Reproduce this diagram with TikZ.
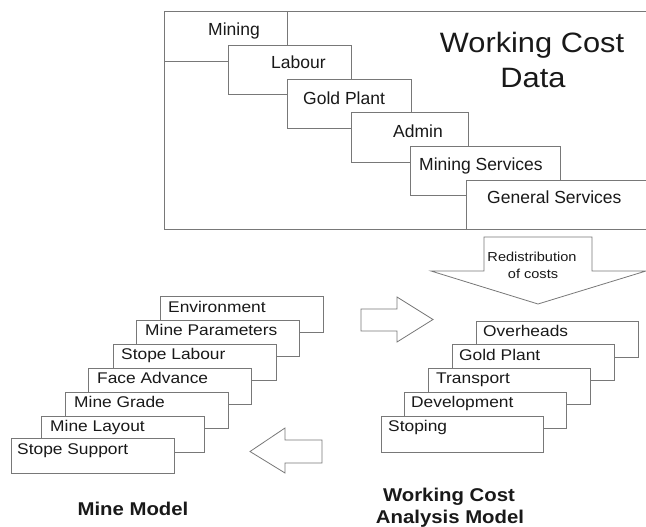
\documentclass[tikz,border=0pt]{standalone}
\usepackage{fontspec}
\usepackage{graphicx}
\setmainfont{Liberation Sans}
\definecolor{linec}{RGB}{120,120,120}
\definecolor{txtc}{RGB}{25,25,25}
\newcommand{\hsc}[2]{\scalebox{#1}[1]{#2}}
\tikzset{
  box/.style={draw=linec, line width=0.8pt, fill=white, rectangle, inner sep=0pt, anchor=north west},
  topbox/.style={box},
  lbox/.style={box, minimum width=163pt, minimum height=36pt},
  rbox/.style={box, minimum width=162pt, minimum height=36pt},
  toplbl/.style={anchor=base west, inner sep=0pt, text=txtc, font=\fontsize{17.5pt}{21pt}\selectfont},
  stklbl/.style={anchor=base west, inner sep=0pt, text=txtc, font=\fontsize{15.5pt}{19pt}\selectfont},
  bigtitle/.style={anchor=base, inner sep=0pt, text=txtc, font=\fontsize{28pt}{34pt}\selectfont},
  smalltxt/.style={anchor=base, inner sep=0pt, text=txtc, font=\fontsize{13pt}{16pt}\selectfont},
  boldlbl/.style={anchor=base, inner sep=0pt, text=txtc, font=\bfseries\fontsize{18.5pt}{22pt}\selectfont},
  blockarrow/.style={draw=linec, line width=0.8pt, fill=white, line join=miter}
}
\begin{document}
\begin{tikzpicture}[x=1pt, y=-1pt]
\useasboundingbox (0,0) rectangle (646,527);
\clip (0,0) rectangle (646,527);

% ---- Working cost data panel ----
\node[box, minimum width=490pt, minimum height=218pt] (panel) at (164,11) {};
\node[box, minimum width=123pt, minimum height=50pt] (mining) at (164,11) {};
\node[box, minimum width=123pt, minimum height=49pt] (labour) at (228,45) {};
\node[box, minimum width=124pt, minimum height=49pt] (goldplant) at (287,79) {};
\node[box, minimum width=117pt, minimum height=50pt] (admin) at (351,112) {};
\node[box, minimum width=150pt, minimum height=49pt] (miningserv) at (410,146) {};
\node[box, minimum width=190pt, minimum height=49pt] (genserv) at (466,180) {};

\node[toplbl] (tmining) at (208,36) {Mining};
\node[toplbl] (tlabour) at (271,69) {Labour};
\node[toplbl] (tgold) at (303,105) {Gold Plant};
\node[toplbl] (tadmin) at (393,137) {Admin};
\node[toplbl] (tms) at (419,170) {Mining Services};
\node[toplbl] (tgs) at (487,203) {General Services};

\node[bigtitle] (wc1) at (532,53) {\hsc{1.1}{Working Cost}};
\node[bigtitle] (wc2) at (533,88) {\hsc{1.1}{Data}};

% ---- Redistribution arrow ----
\draw[blockarrow] (484,237) -- (592,237) -- (592,271) -- (646,271) -- (538,304) -- (431,271) -- (484,271) -- cycle;
\node[smalltxt] (redis1) at (532,261) {\hsc{1.12}{Redistribution}};
\node[smalltxt] (redis2) at (533,278) {\hsc{1.12}{of costs}};

% ---- Right arrow ----
\draw[blockarrow] (361,309) -- (397,309) -- (397,297) -- (433,319.5) -- (397,342) -- (397,331) -- (361,331) -- cycle;

% ---- Left arrow ----
\draw[blockarrow] (322,440) -- (285,440) -- (285,428) -- (250,451.5) -- (285,473) -- (285,463) -- (322,463) -- cycle;

% ---- Mine model stack ----
\node[lbox] (env) at (160,296) {};
\node[lbox] (minepar) at (136,320) {};
\node[lbox] (stopelab) at (113,344) {};
\node[lbox] (faceadv) at (88,368) {};
\node[lbox] (minegrade) at (65,392) {};
\node[lbox] (minelayout) at (41,416) {};
\node[lbox, minimum height=35pt] (stopesup) at (11,438) {};

\node[stklbl] (tenv) at (168,312) {\hsc{1.12}{Environment}};
\node[stklbl] (tminepar) at (145,335.5) {\hsc{1.12}{Mine Parameters}};
\node[stklbl] (tstopelab) at (121,359) {\hsc{1.12}{Stope Labour}};
\node[stklbl] (tfaceadv) at (97,383) {\hsc{1.12}{Face Advance}};
\node[stklbl] (tminegrade) at (74,407.5) {\hsc{1.12}{Mine Grade}};
\node[stklbl] (tminelayout) at (50,431) {\hsc{1.12}{Mine Layout}};
\node[stklbl] (tstopesup) at (17,454) {\hsc{1.12}{Stope Support}};

% ---- Working cost analysis stack ----
\node[rbox] (overheads) at (476,321) {};
\node[rbox] (rgold) at (452,344) {};
\node[rbox] (transport) at (428,368) {};
\node[rbox] (development) at (404,392) {};
\node[rbox] (stoping) at (381,416) {};

\node[stklbl] (toverheads) at (483,336) {\hsc{1.12}{Overheads}};
\node[stklbl] (trgold) at (459,360) {\hsc{1.12}{Gold Plant}};
\node[stklbl] (ttransport) at (436,383) {\hsc{1.12}{Transport}};
\node[stklbl] (tdevelopment) at (411,407) {\hsc{1.12}{Development}};
\node[stklbl] (tstoping) at (388,431) {\hsc{1.12}{Stoping}};

% ---- Bottom titles ----
\node[boldlbl] (minemodel) at (133,515) {\hsc{1.1}{Mine Model}};
\node[boldlbl] (wcam1) at (449,501) {\hsc{1.1}{Working Cost}};
\node[boldlbl] (wcam2) at (450,523) {\hsc{1.1}{Analysis Model}};
\end{tikzpicture}
\end{document}
